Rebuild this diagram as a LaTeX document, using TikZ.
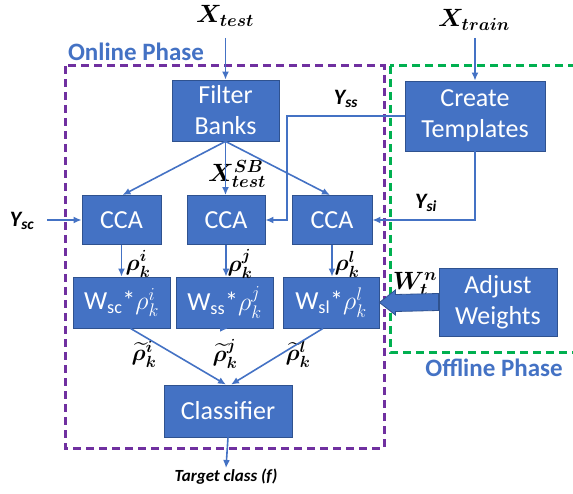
\RequirePackage{fix-cm}
\documentclass[tikz,border=0pt]{standalone}
\usepackage{amsmath,bm}
\usepackage{fontspec}
\setmainfont{Carlito}
\usetikzlibrary{arrows.meta,calc}
\definecolor{obl}{HTML}{4472C4}
\definecolor{obd}{HTML}{2F528F}
\definecolor{purp}{HTML}{7030A0}
\definecolor{grn}{HTML}{00B050}
\begin{document}
\begin{tikzpicture}[x=1pt,y=-1pt,
 box/.style={draw=obd, line width=0.8pt, fill=obl, text=white, font=\fontsize{26}{31}\selectfont, align=center, inner sep=0pt},
 conn/.style={draw=obl, line width=1.6pt, -{Latex[length=8pt,width=7pt]}},
 mlab/.style={font=\fontsize{25}{28}\selectfont, inner sep=0pt},
 rlab/.style={font=\fontsize{23}{26}\selectfont, inner sep=0pt},
 ylab/.style={font=\fontsize{22}{26}\selectfont\bfseries\itshape, inner sep=0pt},
 phase/.style={text=obl, font=\fontsize{25}{30}\selectfont\bfseries, inner sep=0pt},
 frame/.style={line width=3pt, dash pattern=on 8pt off 5pt}
]
\clip (0,0) rectangle (573,494);
\useasboundingbox (0,0) rectangle (573,494);

% phase frames
\draw[frame, purp] (65,66) rectangle (384,448);
\draw[frame, grn] (390,66) rectangle (600,352);
\node[phase] (onl) at (136,52) {Online Phase};
\node[phase] (offl) at (494,368) {Offline Phase};

% boxes
\node[box, minimum width=107pt, minimum height=61pt] (fb) at (225.5,110.5) {Filter\\Banks};
\node[box, minimum width=140pt, minimum height=70pt] (ct) at (475,116) {Create\\Templates};
\node[box, minimum width=79pt, minimum height=49pt] (cca1) at (121.5,220) {CCA};
\node[box, minimum width=78pt, minimum height=49pt] (cca2) at (226,220) {CCA};
\node[box, minimum width=80pt, minimum height=49pt] (cca3) at (332,220) {CCA};
\node[box, minimum width=97pt, minimum height=51pt] (w1) at (121.5,302.5) {W\textsubscript{sc}*$\rho^{i}_{k}$};
\node[box, minimum width=97pt, minimum height=51pt] (w2) at (224.5,302.5) {W\textsubscript{ss}*$\rho^{j}_{k}$};
\node[box, minimum width=96pt, minimum height=51pt] (w3) at (331,302.5) {W\textsubscript{sl}*$\rho^{l}_{k}$};
\node[box, minimum width=118pt, minimum height=68pt] (aw) at (498,302) {Adjust\\Weights};
\node[box, minimum width=128pt, minimum height=52pt] (cl) at (228,411) {Classifier};

% labels
\node[mlab] (xt) at (225,16) {$\boldsymbol{X_{test}}$};
\node[mlab] (xtr) at (474,20) {$\boldsymbol{X_{train}}$};
\node[mlab] (xsb) at (237,174) {$\boldsymbol{X^{SB}_{test}}$};
\node[ylab] (yss) at (346,99) {Y\textsubscript{ss}};
\node[ylab] (ysi) at (426,203) {Y\textsubscript{si}};
\node[ylab] (ysc) at (22,221) {Y\textsubscript{sc}};
\node[rlab] (r1) at (138,264) {$\boldsymbol{\rho^{i}_{k}}$};
\node[rlab] (r2) at (240,264) {$\boldsymbol{\rho^{j}_{k}}$};
\node[rlab] (r3) at (347,264) {$\boldsymbol{\rho^{l}_{k}}$};
\node[rlab] (t1) at (144,354) {$\widetilde{\boldsymbol{\rho}}{}^{\boldsymbol{i}}_{\boldsymbol{k}}$};
\node[rlab] (t2) at (225,354) {$\widetilde{\boldsymbol{\rho}}{}^{\boldsymbol{j}}_{\boldsymbol{k}}$};
\node[rlab] (t3) at (298,354) {$\widetilde{\boldsymbol{\rho}}{}^{\boldsymbol{l}}_{\boldsymbol{k}}$};
\node[mlab] (wtn) at (415,284) {$\boldsymbol{W^{n}_{t}}$};
\node[font=\fontsize{17}{20}\selectfont\bfseries\itshape, inner sep=1pt] (tc) at (226,477) {Target class (f)};

% helper coordinates
\coordinate (xts) at (225.5,38);
\coordinate (xtrs) at (475,38);
\coordinate (yssx) at (287,0);
\coordinate (yscs) at (47,220);

% connectors
\draw[conn] (xts) -- (fb.north);
\draw[conn] (xtrs) -- (ct.north);
\draw[conn] (fb.south) -- ([xshift=1pt]cca1.north);
\draw[conn] (fb.south) -- (fb.south |- cca2.north);
\draw[conn] (fb.south) -- ([xshift=-2pt]cca3.north);
\draw[conn] (ct.west) -- (ct.west -| yssx) |- (cca2.east);
\draw[conn] (ct.south) |- (cca3.east);
\draw[conn] (yscs) -- (cca1.west);
\draw[conn] (cca1.south) -- (w1.north);
\draw[conn] (cca2.south) -- (cca2.south |- w2.north);
\draw[conn] (cca3.south) -- (cca3.south |- w3.north);
\draw[conn] ([xshift=9pt]w1.south) -- ([xshift=-2pt]cl.north);
\draw[conn] ([xshift=2.5pt]w2.south) -- (w2.south -| cl.north);
\draw[conn] ([xshift=-8pt]w3.south) -- ([xshift=3pt]cl.north);
\draw[conn] (cl.south) -- (tc.north);

% block arrow from Adjust Weights to W_sl
\coordinate (tip) at (w3.east);
\draw[fill=obl, draw=obd, line width=0.8pt] (tip) -- ($(tip)+(16,-12.5)$) -- ($(tip)+(16,-8)$)
  -- ($(aw.west)+(0,-8.5)$) -- ($(aw.west)+(0,8.5)$) -- ($(tip)+(16,9)$) -- ($(tip)+(16,12.5)$) -- cycle;
\end{tikzpicture}
\end{document}
